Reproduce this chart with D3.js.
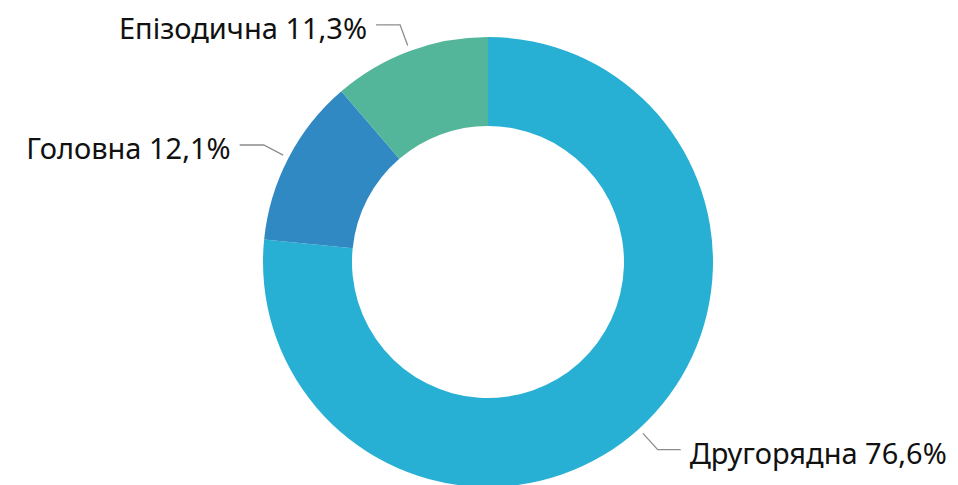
<!DOCTYPE html>
<html>
<head>
<meta charset="utf-8">
<script src="https://cdn.jsdelivr.net/npm/d3@7"></script>
<style>
  body { margin: 0; background: #fff; }
  text { font-family: "Noto Sans", "Open Sans", sans-serif; }
</style>
</head>
<body>
<div id="chart"></div>
<script>
const categories = ["Другорядна", "Головна", "Епізодична"];
const shares = [76.6, 12.1, 11.3];
const colors = ["#28B0D4", "#3189C3", "#53B69A"];

const width = 958;
const height = 485;
const cx = 488, cy = 262;
const outerR = 225, innerR = 136;

const svg = d3.select("#chart").append("svg")
  .attr("width", width).attr("height", height);

const g = svg.append("g").attr("transform", `translate(${cx},${cy})`);

const data = categories.map((c, i) => ({ name: c, value: shares[i], color: colors[i] }));

const pie = d3.pie().sort(null).value(d => d.value);
const arc = d3.arc().innerRadius(innerR).outerRadius(outerR);
const arcs = pie(data);

g.selectAll("path.slice")
  .data(arcs)
  .enter().append("path")
  .attr("class", "slice")
  .attr("d", arc)
  .attr("fill", d => d.data.color);

// leader lines + labels
const fmt = v => v.toFixed(1).replace(".", ",") + "%";

arcs.forEach(d => {
  const mid = (d.startAngle + d.endAngle) / 2;
  const p0 = [Math.sin(mid) * 231, -Math.cos(mid) * 231];
  const p1 = [Math.sin(mid) * 253, -Math.cos(mid) * 253];
  const right = Math.sin(mid) > 0;
  const p2 = [p1[0] + (right ? 23 : -24), p1[1]];

  g.append("polyline")
    .attr("points", [p0, p1, p2].map(p => p.join(",")).join(" "))
    .attr("fill", "none")
    .attr("stroke", "#8c8c8c")
    .attr("stroke-width", 1.3);

  g.append("text")
    .attr("x", p2[0] + (right ? 9 : -9))
    .attr("y", p2[1] + 14)
    .attr("text-anchor", right ? "start" : "end")
    .attr("font-size", 29)
    .attr("fill", "#111")
    .text(`${d.data.name} ${fmt(d.data.value)}`);
});
</script>
</body>
</html>
